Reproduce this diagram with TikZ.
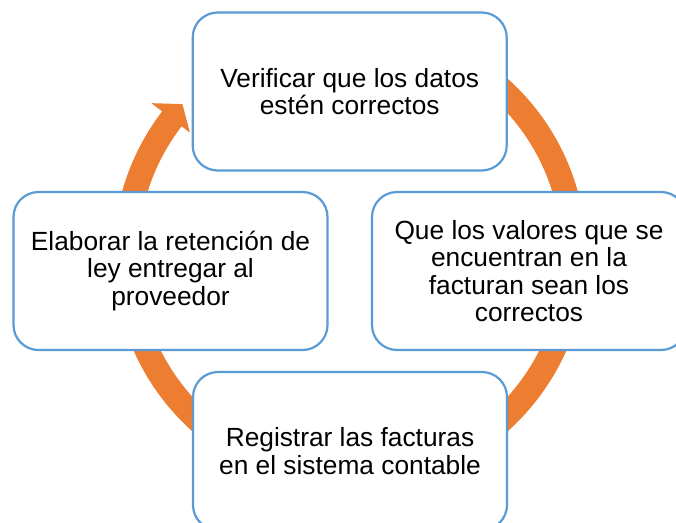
\documentclass[tikz,border=0pt]{standalone}
\usepackage{fontspec}
\setmainfont{Liberation Sans}
\definecolor{ringorange}{HTML}{ED7D31}
\definecolor{boxblue}{HTML}{5B9BD5}
\begin{document}
\begin{tikzpicture}[x=1pt,y=1pt,
  stepbox/.style={draw=boxblue, line width=2.2pt, fill=white, rounded corners=25pt,
    minimum width=314pt, minimum height=158pt, inner sep=0pt, align=center,
    font=\fontsize{26.3}{27.2}\selectfont},
  ring/.style={draw=ringorange, line width=24.5pt},
  ringhead/.style={fill=ringorange}]
\clip (0,0) rectangle (676,-522);
\fill[white] (0,0) rectangle (676,-522);
\coordinate (c) at (350,-255);
% orange cycle ring (mostly hidden under the boxes)
\draw[ring] (c) ++(142.3:224.25) arc[start angle=142.3, end angle=482.6, radius=224.25];
\fill[ringhead] (c) +(142.6:201.5) -- +(138:225.5) -- +(142.6:250) -- cycle;
% boxes
\node[stepbox] (top) at (349.7,-91.5) {Verificar que los datos\\estén correctos};
\node[stepbox] (right) at (529,-271) {Que los valores que se\\encuentran en la\\facturan sean los\\correctos};
\node[stepbox] (left) at (170.5,-271) {Elaborar la retención de\\ley entregar al\\proveedor};
\node[stepbox] (bottom) at (350,-451) {Registrar las facturas\\en el sistema contable};
\end{tikzpicture}
\end{document}
